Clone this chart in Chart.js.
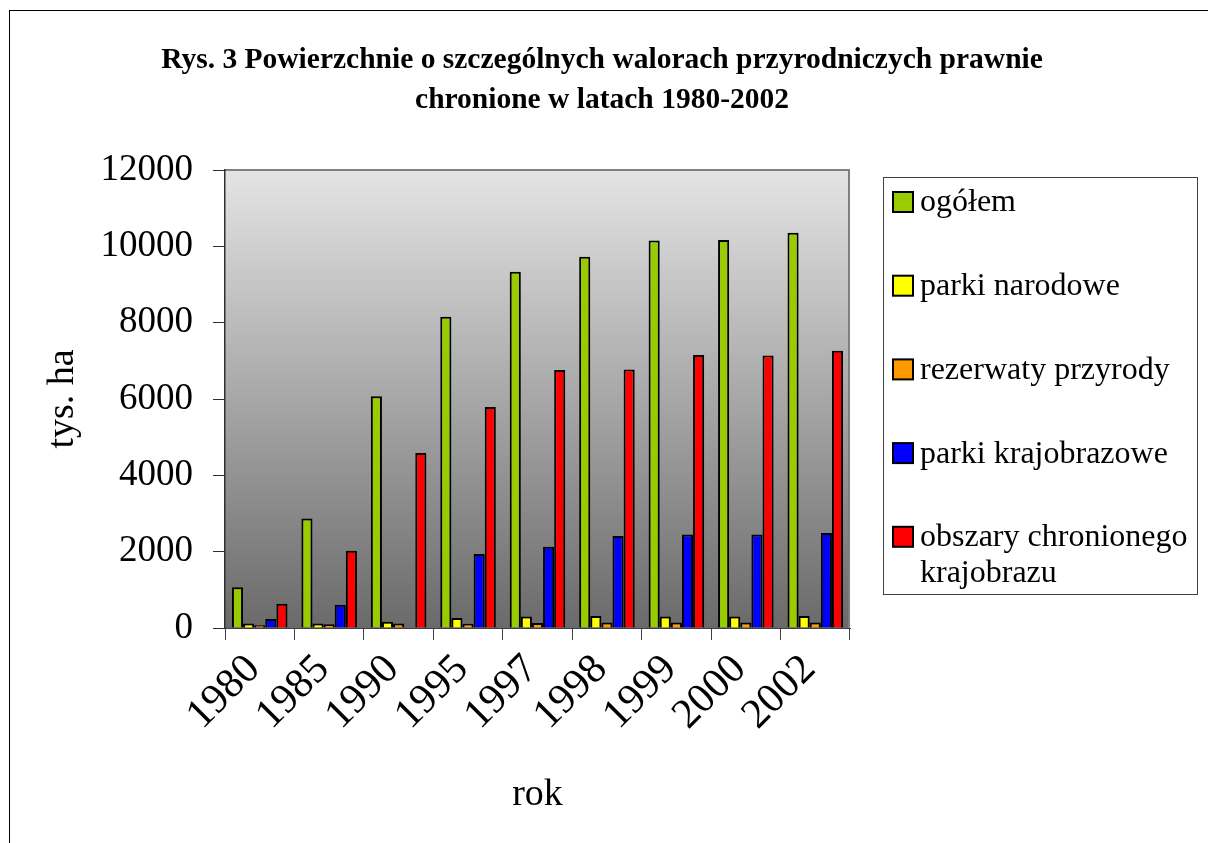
<!DOCTYPE html>
<html>
<head>
<meta charset="utf-8">
<script src="https://cdn.jsdelivr.net/npm/chart.js@4/dist/chart.umd.min.js"></script>
<style>
  html, body { margin: 0; padding: 0; background: #ffffff; }
  #wrap { position: relative; width: 1208px; height: 843px; }
</style>
</head>
<body>
<div id="wrap"><canvas id="chart" width="1208" height="843"></canvas></div>
<script>
var years = ['1980', '1985', '1990', '1995', '1997', '1998', '1999', '2000', '2002'];

var ogolem            = [1065, 2870, 6075, 8155, 9335, 9725, 10155, 10165, 10355];
var parkiNarodowe     = [120, 120, 165, 262, 304, 314, 304, 304, 314];
var rezerwaty         = [70, 95, 120, 113, 131, 147, 147, 147, 147];
var parkiKrajobrazowe = [236, 610, null, 1939, 2130, 2410, 2452, 2452, 2489];
var obszaryChronione  = [637, 2025, 4585, 5790, 6759, 6775, 7152, 7140, 7265];

var seriesNames = ['ogółem', 'parki narodowe', 'rezerwaty przyrody', 'parki krajobrazowe', 'obszary chronionego krajobrazu'];
var seriesColors = ['#99CC00', '#FFFF00', '#FF9900', '#0000FF', '#FF0000'];

var titleLines = ['Rys. 3 Powierzchnie o szczególnych walorach przyrodniczych prawnie', 'chronione w latach 1980-2002'];
var yTitle = 'tys. ha';
var xTitle = 'rok';

var SERIF = '"Liberation Serif", "Times New Roman", Times, serif';

/* plot background, frame, title and legend */
var decorPlugin = {
    id: 'decor',
    beforeDraw: function(chart) {
        var ctx = chart.ctx;
        var a = chart.chartArea;
        ctx.save();
        ctx.fillStyle = '#ffffff';
        ctx.fillRect(0, 0, chart.width, chart.height);

        // outer frame, right and bottom edges lie off the page
        ctx.strokeStyle = '#000000';
        ctx.lineWidth = 1;
        ctx.strokeRect(9.5, 10.5, 1400, 1000);

        var g = ctx.createLinearGradient(0, a.top, 0, a.bottom);
        g.addColorStop(0, '#e4e4e4');
        g.addColorStop(1, '#6a6a6a');
        ctx.fillStyle = g;
        ctx.fillRect(a.left, a.top, a.right - a.left, a.bottom - a.top);

        ctx.strokeStyle = '#808080';
        ctx.lineWidth = 2;
        ctx.beginPath();
        ctx.moveTo(a.left, a.top);
        ctx.lineTo(a.right - 1, a.top);
        ctx.lineTo(a.right - 1, a.bottom);
        ctx.stroke();
        ctx.restore();
    },
    afterDraw: function(chart) {
        var ctx = chart.ctx;
        ctx.save();

        // title
        ctx.fillStyle = '#000000';
        ctx.font = 'bold 29.5px ' + SERIF;
        ctx.textAlign = 'center';
        ctx.textBaseline = 'middle';
        for (var i = 0; i < titleLines.length; i++) {
            ctx.fillText(titleLines[i], 602, 60 + i * 40);
        }

        // legend
        var box = {x: 883, y: 177, w: 314, h: 417};
        ctx.strokeStyle = '#404040';
        ctx.lineWidth = 1;
        ctx.strokeRect(box.x + 0.5, box.y + 0.5, box.w, box.h);

        ctx.font = '32px ' + SERIF;
        ctx.textAlign = 'left';
        var textX = 920;
        var maxW = box.x + box.w - textX - 4;
        chart.data.datasets.forEach(function(ds, k) {
            var cy = 202 + k * 83.7;
            ctx.fillStyle = ds.backgroundColor;
            ctx.fillRect(893, cy - 10, 20, 20);
            ctx.strokeStyle = '#000000';
            ctx.lineWidth = 2;
            ctx.strokeRect(893, cy - 10, 20, 20);

            // simple word wrap
            var words = ds.label.split(' ');
            var lines = [];
            var cur = '';
            words.forEach(function(w) {
                var test = cur ? cur + ' ' + w : w;
                if (cur && ctx.measureText(test).width > maxW) {
                    lines.push(cur);
                    cur = w;
                } else {
                    cur = test;
                }
            });
            lines.push(cur);
            ctx.fillStyle = '#000000';
            lines.forEach(function(line, j) {
                ctx.fillText(line, textX, cy + 1 + j * 36);
            });
        });
        ctx.restore();
    }
};

var allSeries = [ogolem, parkiNarodowe, rezerwaty, parkiKrajobrazowe, obszaryChronione];

var datasets = allSeries.map(function(values, i) {
    return {
        label: seriesNames[i],
        data: values,
        backgroundColor: seriesColors[i],
        borderColor: '#000000',
        borderWidth: 2,
        borderSkipped: 'bottom',
        categoryPercentage: 0.8,
        barPercentage: 1.0
    };
});

new Chart(document.getElementById('chart'), {
    type: 'bar',
    data: { labels: years, datasets: datasets },
    plugins: [decorPlugin],
    options: {
        responsive: false,
        animation: false,
        devicePixelRatio: 1,
        layout: { padding: { top: 170, right: 358, bottom: 0, left: 0 } },
        plugins: {
            legend: { display: false },
            title: { display: false },
            tooltip: { enabled: false }
        },
        scales: {
            x: {
                afterFit: function(s) { s.height = 215; },
                grid: { offset: true, drawOnChartArea: false, drawTicks: true, tickLength: 12, color: '#404040', lineWidth: 1 },
                border: { color: '#404040', width: 1 },
                ticks: {
                    autoSkip: false,
                    maxRotation: 45,
                    minRotation: 45,
                    padding: 5,
                    labelOffset: -6,
                    color: '#000000',
                    font: { family: SERIF, size: 42 }
                },
                title: {
                    display: true,
                    text: xTitle,
                    color: '#000000',
                    font: { family: SERIF, size: 38 },
                    padding: { top: 0, bottom: 25 }
                }
            },
            y: {
                min: 0,
                max: 12000,
                afterFit: function(s) { s.width = 225; },
                grid: { drawOnChartArea: false, drawTicks: true, tickLength: 12, color: '#303030', lineWidth: 1 },
                border: { color: '#303030', width: 1.5 },
                ticks: {
                    stepSize: 2000,
                    padding: 20,
                    color: '#000000',
                    font: { family: SERIF, size: 37 },
                    callback: function(v) { return String(v); }
                },
                title: {
                    display: true,
                    text: yTitle,
                    color: '#000000',
                    font: { family: SERIF, size: 38 },
                    padding: { top: 40, bottom: 0 }
                }
            }
        }
    }
});
</script>
</body>
</html>
